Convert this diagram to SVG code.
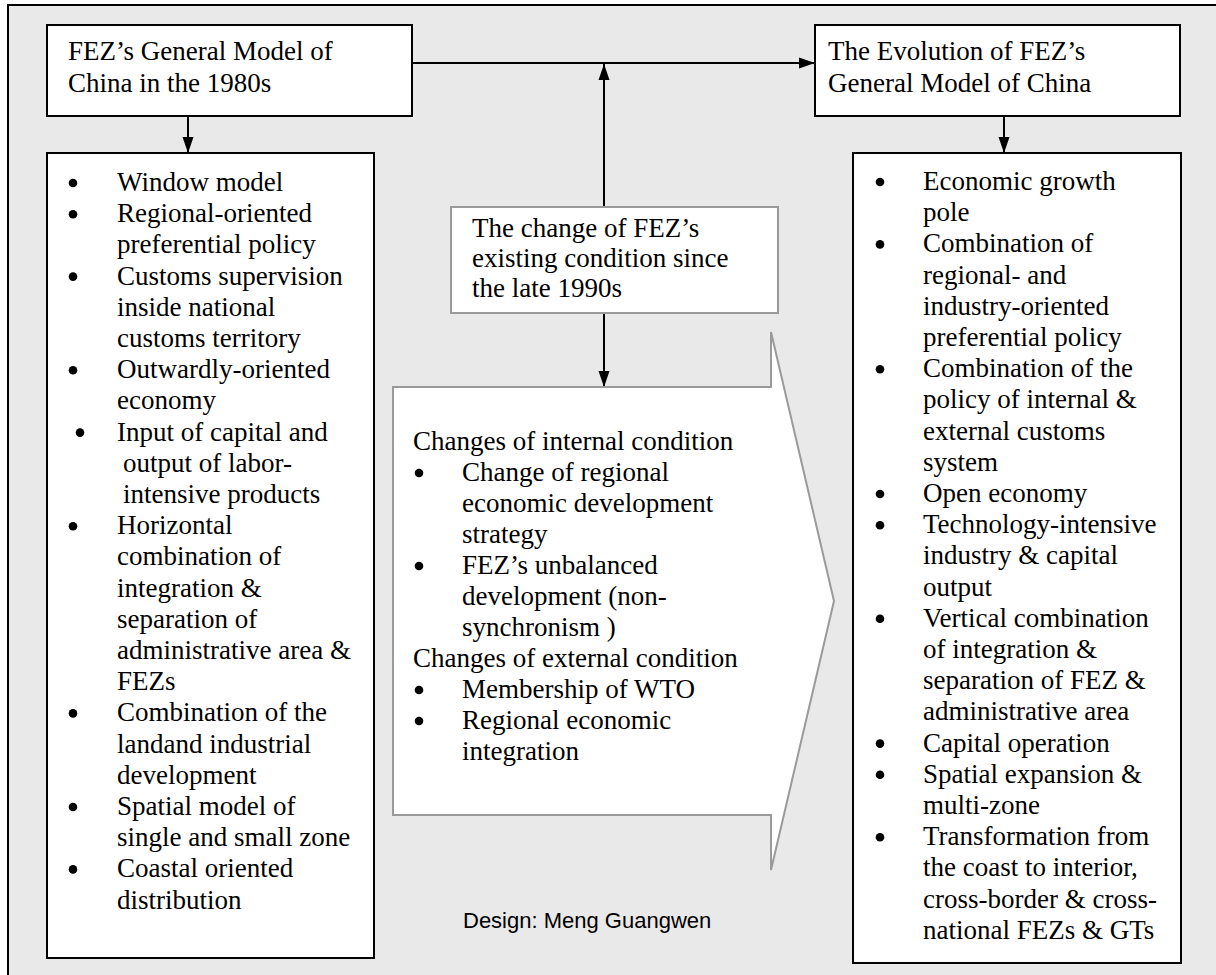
<svg xmlns="http://www.w3.org/2000/svg" width="1216" height="975" viewBox="0 0 1216 975">
  <defs>
    <style>
      .frame { fill: #e9e9e9; stroke: #000; stroke-width: 2; }
      .box { fill: #fff; stroke: #000; stroke-width: 2; }
      .gbox { fill: #fff; stroke: #9a9a9a; stroke-width: 2; }
      .t { font-family: "Liberation Serif", "Times New Roman", serif; font-size: 27px; fill: #000; }
      .sans { font-family: "Liberation Sans", Arial, sans-serif; font-size: 22px; fill: #000; }
      .link { fill: none; stroke: #000; stroke-width: 2; }
      .dot { fill: #000; }
    </style>
    <marker id="arrow" markerUnits="userSpaceOnUse" markerWidth="16" markerHeight="12" refX="16" refY="6" orient="auto">
      <path d="M0,0.5 L16,6 L0,11.5 z" fill="#000"/>
    </marker>
    <circle id="bullet" r="4.3" class="dot"/>
  </defs>

  <!-- background panel -->
  <rect class="frame" x="8" y="5" width="1215" height="980"/>

  <!-- connectors -->
  <g id="connectors">
    <line class="link" x1="412" y1="63" x2="815" y2="63" marker-end="url(#arrow)"/>
    <line class="link" x1="604" y1="207" x2="604" y2="64" marker-end="url(#arrow)"/>
    <line class="link" x1="604" y1="313" x2="604" y2="387" marker-end="url(#arrow)"/>
    <line class="link" x1="188" y1="116" x2="188" y2="153" marker-end="url(#arrow)"/>
    <line class="link" x1="1004" y1="116" x2="1004" y2="153" marker-end="url(#arrow)"/>
  </g>

  <!-- 1980s model title -->
  <g id="model-1980s">
    <rect class="box" x="47" y="25" width="365" height="91"/>
    <text class="t"><tspan x="68" y="60">FEZ’s General Model of</tspan><tspan x="68" y="92">China in the 1980s</tspan></text>
  </g>

  <!-- evolution title -->
  <g id="model-evolution">
    <rect class="box" x="815" y="25" width="365" height="91"/>
    <text class="t"><tspan x="828" y="60">The Evolution of FEZ’s</tspan><tspan x="828" y="92">General Model of China</tspan></text>
  </g>

  <!-- changing conditions box -->
  <g id="condition-change">
    <rect class="gbox" x="451" y="207" width="327" height="106"/>
    <text class="t"><tspan x="472" y="237">The change of FEZ’s</tspan><tspan x="472" y="267">existing condition since</tspan><tspan x="472" y="297">the late 1990s</tspan></text>
  </g>

  <!-- block arrow with internal / external changes -->
  <g id="changes-arrow">
    <path class="gbox" d="M393,387 L771,387 L771,332 L834,601 L771,870 L771,815 L393,815 Z"/>
    <text class="t">
      <tspan x="413" y="450">Changes of internal condition</tspan>
      <tspan x="462" y="481">Change of regional</tspan>
      <tspan x="462" y="512">economic development</tspan>
      <tspan x="462" y="543">strategy</tspan>
      <tspan x="462" y="574">FEZ’s unbalanced</tspan>
      <tspan x="462" y="605">development (non-</tspan>
      <tspan x="462" y="636">synchronism )</tspan>
      <tspan x="413" y="667">Changes of external condition</tspan>
      <tspan x="462" y="698">Membership of WTO</tspan>
      <tspan x="462" y="729">Regional economic</tspan>
      <tspan x="462" y="760">integration</tspan>
    </text>
    <use href="#bullet" x="419" y="473"/>
    <use href="#bullet" x="419" y="566"/>
    <use href="#bullet" x="419" y="690"/>
    <use href="#bullet" x="419" y="721"/>
  </g>

  <!-- 1980s model features -->
  <g id="features-1980s">
    <rect class="box" x="47" y="153" width="327" height="805"/>
    <text class="t">
      <tspan x="117" y="191">Window model</tspan>
      <tspan x="117" y="222.2">Regional-oriented</tspan>
      <tspan x="117" y="253.4">preferential policy</tspan>
      <tspan x="117" y="284.6">Customs supervision</tspan>
      <tspan x="117" y="315.8">inside national</tspan>
      <tspan x="117" y="347">customs territory</tspan>
      <tspan x="117" y="378.2">Outwardly-oriented</tspan>
      <tspan x="117" y="409.4">economy</tspan>
      <tspan x="117" y="440.6">Input of capital and</tspan>
      <tspan x="123" y="471.8">output of labor-</tspan>
      <tspan x="123" y="503">intensive products</tspan>
      <tspan x="117" y="534.2">Horizontal</tspan>
      <tspan x="117" y="565.4">combination of</tspan>
      <tspan x="117" y="596.6">integration &amp;</tspan>
      <tspan x="117" y="627.8">separation of</tspan>
      <tspan x="117" y="659">administrative area &amp;</tspan>
      <tspan x="117" y="690.2">FEZs</tspan>
      <tspan x="117" y="721.4">Combination of the</tspan>
      <tspan x="117" y="752.6">landand industrial</tspan>
      <tspan x="117" y="783.8">development</tspan>
      <tspan x="117" y="815">Spatial model of</tspan>
      <tspan x="117" y="846.2">single and small zone</tspan>
      <tspan x="117" y="877.4">Coastal oriented</tspan>
      <tspan x="117" y="908.6">distribution</tspan>
    </text>
    <use href="#bullet" x="73" y="183"/>
    <use href="#bullet" x="73" y="214.2"/>
    <use href="#bullet" x="73" y="276.6"/>
    <use href="#bullet" x="73" y="370.2"/>
    <use href="#bullet" x="80" y="432.6"/>
    <use href="#bullet" x="73" y="526.2"/>
    <use href="#bullet" x="73" y="713.4"/>
    <use href="#bullet" x="73" y="807"/>
    <use href="#bullet" x="73" y="869.4"/>
  </g>

  <!-- evolved model features -->
  <g id="features-evolution">
    <rect class="box" x="853" y="153" width="328" height="810"/>
    <text class="t">
      <tspan x="923" y="190">Economic growth</tspan>
      <tspan x="923" y="221.2">pole</tspan>
      <tspan x="923" y="252.4">Combination of</tspan>
      <tspan x="923" y="283.6">regional- and</tspan>
      <tspan x="923" y="314.8">industry-oriented</tspan>
      <tspan x="923" y="346">preferential policy</tspan>
      <tspan x="923" y="377.2">Combination of the</tspan>
      <tspan x="923" y="408.4">policy of internal &amp;</tspan>
      <tspan x="923" y="439.6">external customs</tspan>
      <tspan x="923" y="470.8">system</tspan>
      <tspan x="923" y="502">Open economy</tspan>
      <tspan x="923" y="533.2">Technology-intensive</tspan>
      <tspan x="923" y="564.4">industry &amp; capital</tspan>
      <tspan x="923" y="595.6">output</tspan>
      <tspan x="923" y="626.8">Vertical combination</tspan>
      <tspan x="923" y="658">of integration &amp;</tspan>
      <tspan x="923" y="689.2">separation of FEZ &amp;</tspan>
      <tspan x="923" y="720.4">administrative area</tspan>
      <tspan x="923" y="751.6">Capital operation</tspan>
      <tspan x="923" y="782.8">Spatial expansion &amp;</tspan>
      <tspan x="923" y="814">multi-zone</tspan>
      <tspan x="923" y="845.2">Transformation from</tspan>
      <tspan x="923" y="876.4">the coast to interior,</tspan>
      <tspan x="923" y="907.6">cross-border &amp; cross-</tspan>
      <tspan x="923" y="938.8">national FEZs &amp; GTs</tspan>
    </text>
    <use href="#bullet" x="880" y="182"/>
    <use href="#bullet" x="880" y="244.4"/>
    <use href="#bullet" x="880" y="369.2"/>
    <use href="#bullet" x="880" y="494"/>
    <use href="#bullet" x="880" y="525.2"/>
    <use href="#bullet" x="880" y="618.8"/>
    <use href="#bullet" x="880" y="743.6"/>
    <use href="#bullet" x="880" y="774.8"/>
    <use href="#bullet" x="880" y="837.2"/>
  </g>

  <!-- credit -->
  <text class="sans" x="463" y="928">Design: Meng Guangwen</text>
</svg>
